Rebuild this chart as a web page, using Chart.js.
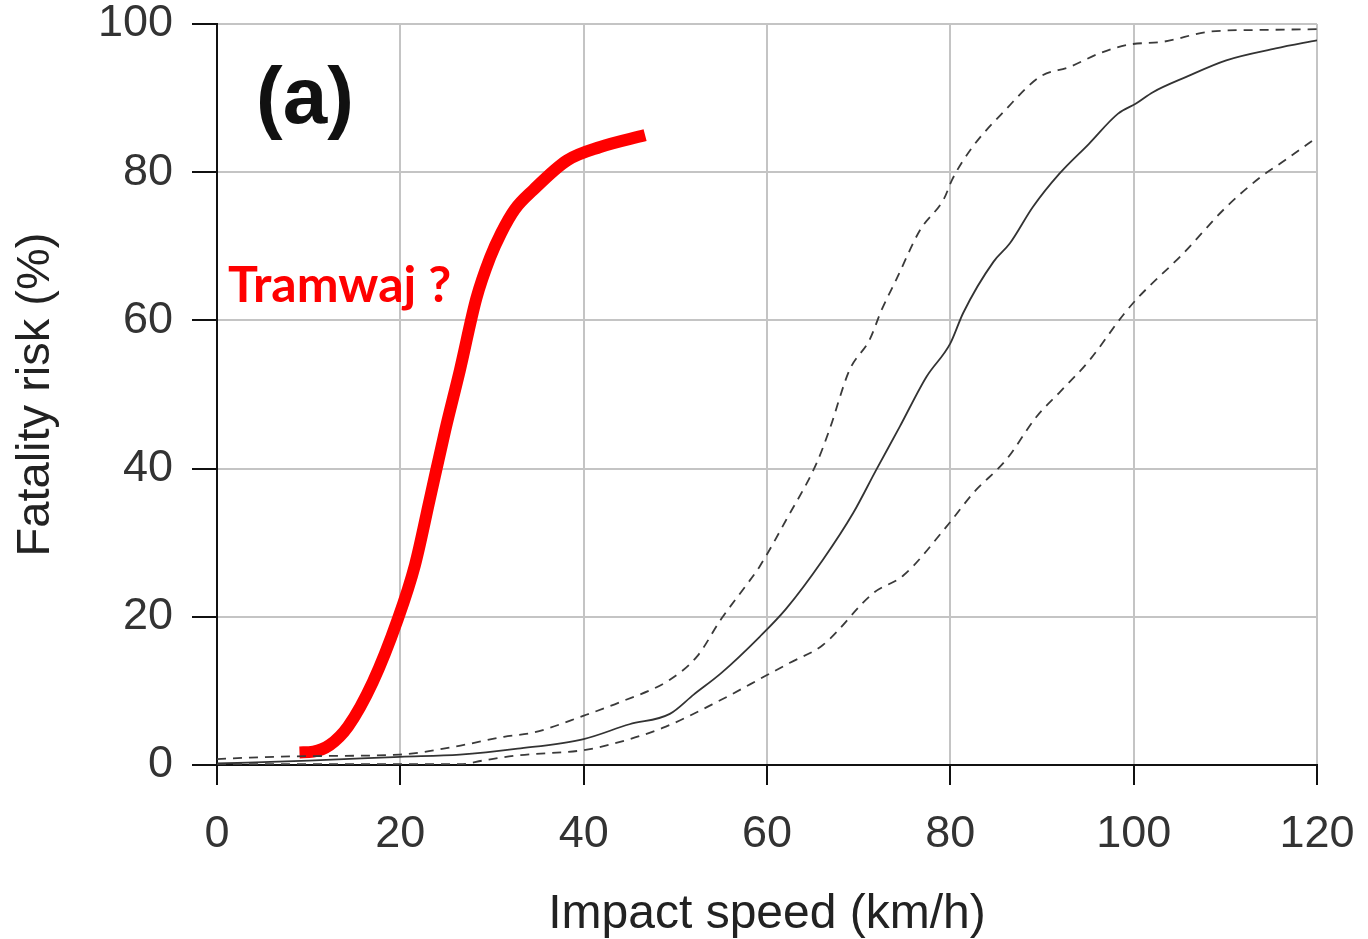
<!DOCTYPE html>
<html>
<head>
<meta charset="utf-8">
<script src="https://cdn.jsdelivr.net/npm/chart.js@4.4.1/dist/chart.umd.min.js"></script>
<style>
  body { margin: 0; background: #fff; }
  #wrap { width: 1368px; height: 939px; }
</style>
</head>
<body>
<div id="wrap"><canvas id="riskChart" width="1368" height="939"></canvas></div>
<script>
// tick labels
const xTicks = [0, 20, 40, 60, 80, 100, 120];
const yTicks = [0, 20, 40, 60, 80, 100];

// median fatality risk curve (solid)
const medianX = [0, 10, 20, 26.5, 32.8, 40, 45, 49.4, 52, 55, 59.2, 62.1, 66.1, 69.4, 71.9, 74.5, 77.4, 80, 81.4, 84.7, 86.5, 89.0, 91.9, 95.1, 98.3, 100.3, 102.1, 105.8, 110.1, 115.5, 120];
const medianY = [0.2, 0.6, 1.1, 1.4, 2.2, 3.5, 5.5, 6.9, 9.5, 12.4, 17.3, 21.1, 27.7, 34.0, 39.8, 45.7, 52.4, 56.9, 61.0, 67.9, 70.4, 75.3, 79.8, 83.8, 87.9, 89.3, 90.8, 92.9, 95.1, 96.7, 97.8];

// upper confidence bound (dashed)
const upperX = [0, 3.6, 10, 19.9, 26, 31.3, 34.6, 40.1, 44, 49.4, 52.4, 55, 57.7, 59.2, 62.1, 65.4, 66.8, 69.0, 71.2, 72.5, 74.1, 76.7, 79.3, 80.2, 82.3, 86, 89.8, 93, 96.2, 99.4, 103.2, 108.5, 114, 120];
const upperY = [0.8, 1.0, 1.2, 1.4, 2.5, 3.8, 4.4, 6.7, 8.5, 11.5, 14.7, 19.7, 24.2, 26.8, 33.1, 40.7, 45.2, 53.3, 57.4, 61.4, 65.5, 72.2, 76.4, 79.0, 83.2, 88.4, 92.9, 94.2, 96.0, 97.2, 97.6, 99.0, 99.2, 99.3];

// lower confidence bound (dashed)
const lowerX = [0, 10, 20, 26.5, 29, 32.8, 40, 42.4, 48.6, 55, 59.8, 62.5, 66.1, 71.6, 74.9, 79.6, 82.5, 86.1, 89.4, 92.0, 95.1, 98.9, 100.5, 105.3, 110.1, 113.8, 116.5, 120];
const lowerY = [0.1, 0.1, 0.1, 0.1, 0.6, 1.3, 2.0, 2.6, 5.0, 8.8, 12.0, 13.8, 16.2, 23.2, 25.6, 32.2, 36.7, 41.2, 47.0, 50.4, 54.5, 60.8, 63.1, 68.9, 75.3, 79.3, 81.6, 84.7];

// hand drawn tram curve (red)
const tramX = [9.0, 10.5, 12.3, 14.3, 17.0, 19.7, 21.6, 23.2, 24.9, 26.5, 28.3, 29.8, 31.0, 32.5, 34.5, 38.2, 41.8, 46.7];
const tramY = [1.7, 1.8, 2.7, 5.2, 11.2, 19.6, 27.0, 35.8, 45.2, 53.3, 63.0, 68.5, 71.8, 75.0, 77.6, 81.6, 83.4, 85.0];

const toPoints = (xs, ys) => xs.map((x, i) => ({ x: x, y: ys[i] }));

// text notes on top of the plot
const notes = {
  id: "notes",
  afterDraw(chart) {
    const ctx = chart.ctx;
    const xs = chart.scales.x, ys = chart.scales.y;
    ctx.save();
    ctx.fillStyle = "#111";
    ctx.font = "bold 80px 'Liberation Sans', Arial, sans-serif";
    ctx.textAlign = "center";
    ctx.textBaseline = "alphabetic";
    ctx.fillText("(a)", xs.getPixelForValue(9.6), ys.getPixelForValue(86.6));
    ctx.fillStyle = "#ff0000";
    ctx.font = "bold 50px Lato, 'Open Sans', sans-serif";
    ctx.textAlign = "left";
    ctx.fillText("Tramwaj ?", xs.getPixelForValue(1.2), ys.getPixelForValue(62.5));
    ctx.restore();
  },
};

const canvas = document.getElementById("riskChart").getContext("2d");

const riskChart = new Chart(canvas, {
  type: "line",
  data: {
    datasets: [
      {
        label: "Lower",
        data: toPoints(lowerX, lowerY),
        borderColor: "#3a3a3a",
        borderWidth: 1.8,
        borderDash: [9, 7],
        pointRadius: 0,
        cubicInterpolationMode: "monotone",
      },
      {
        label: "Upper",
        data: toPoints(upperX, upperY),
        borderColor: "#3a3a3a",
        borderWidth: 1.8,
        borderDash: [9, 7],
        pointRadius: 0,
        cubicInterpolationMode: "monotone",
      },
      {
        label: "Median",
        data: toPoints(medianX, medianY),
        borderColor: "#333",
        borderWidth: 1.8,
        pointRadius: 0,
        cubicInterpolationMode: "monotone",
      },
      {
        label: "Tramwaj",
        data: toPoints(tramX, tramY),
        borderColor: "#ff0000",
        borderWidth: 12,
        borderCapStyle: "butt",
        pointRadius: 0,
        cubicInterpolationMode: "monotone",
        clip: false,
      },
    ],
  },
  options: {
    responsive: false,
    animation: false,
    layout: { padding: { top: 24, right: 51, left: 0, bottom: 0 } },
    plugins: { legend: { display: false }, tooltip: { enabled: false } },
    scales: {
      x: {
        type: "linear",
        min: 0,
        max: 120,
        afterBuildTicks: (axis) => { axis.ticks = xTicks.map((v) => ({ value: v })); },
        afterFit: (axis) => {
          axis.height = 174;
          axis.paddingLeft = 0;
          axis.paddingRight = 0;
        },
        grid: { color: "#c4c4c4", lineWidth: 2, tickColor: "#111", tickLength: 20, tickWidth: 2 },
        border: { color: "#111", width: 2 },
        ticks: { color: "#333", padding: 23, font: { family: "'Liberation Sans', Arial", size: 45 } },
        title: {
          display: true,
          text: "Impact speed (km/h)",
          color: "#222",
          font: { family: "'Liberation Sans', Arial", size: 48, lineHeight: 1 },
          padding: { top: 0, bottom: 0 },
        },
      },
      y: {
        min: 0,
        max: 100,
        afterBuildTicks: (axis) => { axis.ticks = yTicks.map((v) => ({ value: v })); },
        afterFit: (axis) => {
          axis.width = 217;
          axis.paddingTop = 0;
          axis.paddingBottom = 0;
        },
        grid: { color: "#c4c4c4", lineWidth: 2, tickColor: "#111", tickLength: 25, tickWidth: 2 },
        border: { color: "#111", width: 2 },
        ticks: { color: "#333", padding: 19, font: { family: "'Liberation Sans', Arial", size: 45 } },
        title: {
          display: true,
          text: "Fatality risk (%)",
          color: "#222",
          font: { family: "'Liberation Sans', Arial", size: 47, lineHeight: 1 },
          padding: { top: 13, bottom: 0 },
        },
      },
    },
  },
  plugins: [notes],
});
</script>
</body>
</html>
